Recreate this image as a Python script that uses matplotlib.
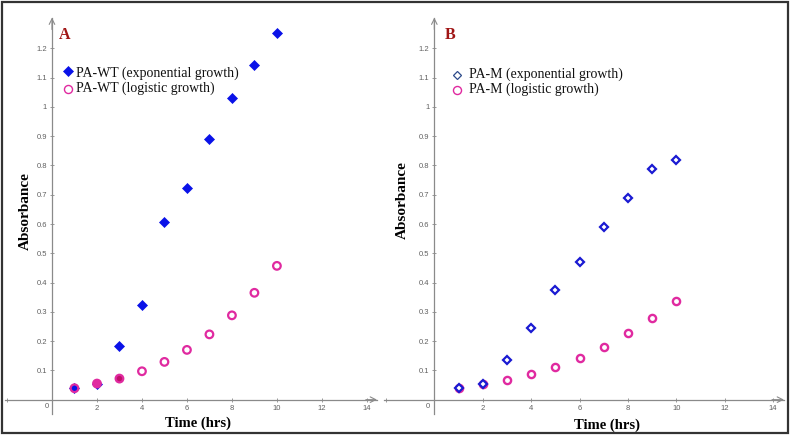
import matplotlib
matplotlib.use("Agg")
import matplotlib.pyplot as plt
from matplotlib.lines import Line2D
from matplotlib.patches import Rectangle

time_hrs = [1, 2, 3, 4, 5, 6, 7, 8, 9, 10]
wt_exponential = [0.039, 0.055, 0.183, 0.323, 0.607, 0.724, 0.889, 1.031, 1.142, 1.252]
wt_logistic = [0.039, 0.055, 0.072, 0.097, 0.129, 0.170, 0.223, 0.288, 0.365, 0.457]
m_exponential = [0.040, 0.053, 0.137, 0.244, 0.374, 0.470, 0.590, 0.690, 0.787, 0.818]
m_logistic = [0.040, 0.052, 0.066, 0.087, 0.112, 0.143, 0.181, 0.227, 0.279, 0.338]
x_ticks = [-2, 2, 4, 6, 8, 10, 12, 14]
y_ticks = [0.1, 0.2, 0.3, 0.4, 0.5, 0.6, 0.7, 0.8, 0.9, 1.0, 1.1, 1.2]

GRAY = "#8a8a8a"
TXT = "#606060"
BLUE = "#0a12e8"
BLUE_B = "#1a1ad2"
MAG = "#e02aa0"
DARKRED = "#a01515"
SERIF = ["Liberation Serif", "DejaVu Serif"]

fig = plt.figure(figsize=(7.9, 4.37), dpi=100)
W, H = 790, 437

def setup(ax, zero_x):
    ax.set_xlim(-2.1, 14.45)
    ax.set_ylim(-0.05, 1.305)
    for s in ("top", "right"):
        ax.spines[s].set_visible(False)
    ax.spines["left"].set_position(("data", 0))
    ax.spines["bottom"].set_position(("data", 0))
    for s in ("left", "bottom"):
        ax.spines[s].set_color(GRAY)
        ax.spines[s].set_linewidth(0.9)
    ax.set_xticks(x_ticks)
    ax.set_xticklabels(["" if t == -2 else str(t) for t in x_ticks])
    ax.set_yticks(y_ticks)
    ax.set_yticklabels([f"{t:g}" for t in y_ticks])
    ax.tick_params(axis="both", direction="inout", length=3, width=0.6, color=GRAY,
                   labelsize=5.5, labelcolor=TXT, pad=2)
    for lab in ax.get_xticklabels() + ax.get_yticklabels():
        lab.set_family("Liberation Sans")
    ax.text(zero_x, -0.022, "0", fontsize=5.5, color=TXT, ha="center", va="center",
            family="Liberation Sans")
    ax.annotate("", xy=(1.0, 0), xytext=(0.97, 0), xycoords=ax.get_yaxis_transform(),
                arrowprops=dict(arrowstyle="->", color=GRAY, lw=0.8, shrinkA=0, shrinkB=0))
    ax.annotate("", xy=(0, 1.0), xytext=(0, 0.97), xycoords=ax.get_xaxis_transform(),
                arrowprops=dict(arrowstyle="->", color=GRAY, lw=0.8, shrinkA=0, shrinkB=0))
    ax.patch.set_alpha(0)

# Panel A
axA = fig.add_axes([4.75 / W, 1 - 414.3 / H, (377 - 4.75) / W, (414.3 - 17.6) / H])
setup(axA, -0.24)
axA.plot(time_hrs, wt_exponential, linestyle="none", marker="D", ms=4.8,
         mfc=BLUE, mec=BLUE, mew=0.5, zorder=3)
faces_A = ["none", MAG, "#c0106a"] + ["none"] * (len(time_hrs) - 3)
axA.scatter(time_hrs, wt_logistic, s=30, facecolors=faces_A, edgecolors=MAG,
            linewidths=1.6, zorder=4)

# Panel B
axB = fig.add_axes([383.5 / W, 1 - 414.3 / H, (784 - 383.5) / W, (414.3 - 17.6) / H])
setup(axB, -0.27)
axB.plot(time_hrs, m_logistic, linestyle="none", marker="o", ms=5.2,
         mfc="none", mec=MAG, mew=1.7, zorder=3)
axB.plot(time_hrs, m_exponential, linestyle="none", marker="D", ms=4.0,
         mfc="white", mec=BLUE_B, mew=1.6, zorder=4)

# Panel letters
fig.text(64.5 / W, 1 - 35 / H, "A", color=DARKRED, fontsize=11.5, fontweight="bold",
         family=SERIF, ha="center", va="center")
fig.text(450 / W, 1 - 35 / H, "B", color=DARKRED, fontsize=11.5, fontweight="bold",
         family=SERIF, ha="center", va="center")

# Legends (manual)
def legend_entry(mx, my, tx, ty, label, marker, ms, mfc, mec, mew):
    fig.add_artist(Line2D([mx / W], [1 - my / H], marker=marker, ms=ms, mfc=mfc,
                          mec=mec, mew=mew, linestyle="none", transform=fig.transFigure))
    fig.text(tx / W, 1 - ty / H, label, fontsize=10, family=SERIF, ha="left",
             va="center", color="#111111")

legend_entry(68, 70.5, 76, 73, "PA-WT (exponential growth)", "D", 5.0, BLUE, BLUE, 0.5)
legend_entry(68, 88.5, 76, 88, "PA-WT (logistic growth)", "o", 5.8, "none", MAG, 1.0)
legend_entry(457, 75, 469, 74, "PA-M (exponential growth)", "D", 4.4, "none", "#2d4a8a", 0.9)
legend_entry(457, 90, 469, 89.5, "PA-M (logistic growth)", "o", 5.8, "none", MAG, 1.0)

# Axis labels
fig.text(198 / W, 1 - 423 / H, "Time (hrs)", fontsize=10.5, fontweight="bold",
         family=SERIF, ha="center", va="center")
fig.text(607 / W, 1 - 425 / H, "Time (hrs)", fontsize=10.5, fontweight="bold",
         family=SERIF, ha="center", va="center")
fig.text(25 / W, 1 - 211 / H, "Absorbance", fontsize=11, fontweight="bold",
         family=SERIF, ha="center", va="center", rotation=90)
fig.text(402 / W, 1 - 200 / H, "Absorbance", fontsize=11, fontweight="bold",
         family=SERIF, ha="center", va="center", rotation=90)

# Outer border
fig.add_artist(Rectangle((2 / W, 1 - 433 / H), 786 / W, 431 / H, transform=fig.transFigure,
                         fill=False, edgecolor="#333333", linewidth=1.6))

fig.savefig("out.png", dpi=100)
